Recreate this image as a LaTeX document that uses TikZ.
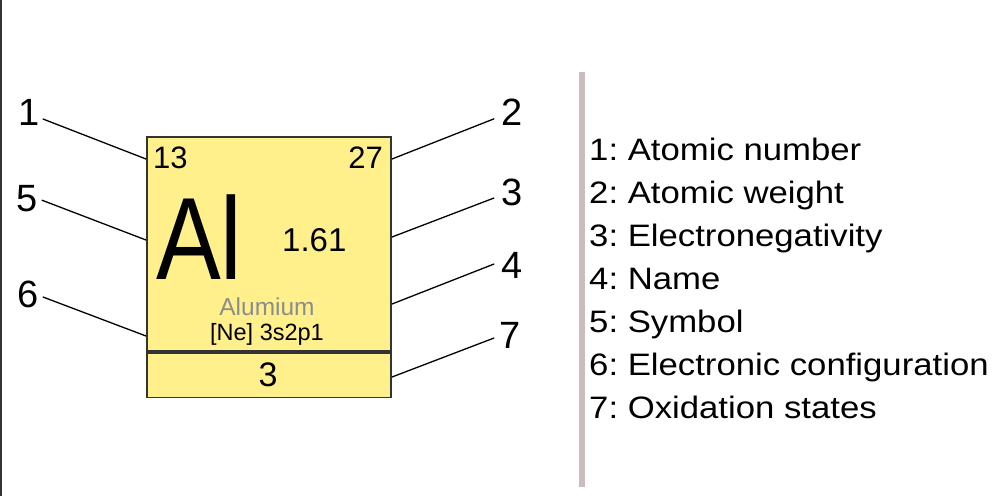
\documentclass[tikz,border=0pt]{standalone}
\usepackage{fontspec}
\setmainfont{Liberation Sans}
\usetikzlibrary{positioning}
\frenchspacing

\definecolor{cellyellow}{RGB}{255,240,140}
\definecolor{edgegray}{RGB}{51,51,51}
\definecolor{bargray}{RGB}{201,189,189}
\definecolor{namegray}{RGB}{140,140,140}

\begin{document}
\begin{tikzpicture}[x=1pt, y=-1pt,
    cell/.style={draw=edgegray, line width=1.5pt, fill=cellyellow, inner sep=0pt, minimum width=244pt},
    num/.style={anchor=base, inner sep=0pt, font=\fontsize{38}{40}\selectfont},
    txt/.style={inner sep=0pt, font=\fontsize{#1}{#1}\selectfont},
    lead/.style={line width=1.3pt},
    entry/.style={anchor=base west, inner sep=0pt, font=\fontsize{31}{36}\selectfont}]

    \useasboundingbox (0,0) rectangle (1000,496);

    % frame line on the left
    \draw[edgegray, line width=2pt] (1,0) -- (1,496);

    % element cell
    \node[cell, minimum height=214pt] (upper) at (269,244) {};
    \node[cell, minimum height=45pt, below=0pt of upper] (lower) {};
    \draw[edgegray, line width=4pt] (upper.south west) -- (upper.south east);

    \node[txt=31, anchor=base west] (anum) at (153,168) {13};
    \node[txt=31, anchor=base east] (aweight) at (383,168) {27};
    \node[txt=117, anchor=base west] (symbol) at (156,279) {\scalebox{0.83}[1]{Al}};
    \node[txt=33, anchor=base west] (eneg) at (282,251) {1.61};
    \node[txt=24.5, anchor=base, text=namegray] (name) at (267,315) {Alumium};
    \node[txt=23.5, anchor=base] (config) at (267,340) {[Ne] 3s2p1};
    \node[txt=34, anchor=base] (oxid) at (268,386) {3};

    % numbers and leader lines
    \node[num] (l1) at (29,125) {1};
    \node[num] (l5) at (27,211) {5};
    \node[num] (l6) at (28,307) {6};
    \node[num] (l2) at (512,125) {2};
    \node[num] (l3) at (512,205) {3};
    \node[num] (l4) at (512,278) {4};
    \node[num] (l7) at (510,348) {7};

    \coordinate (p1) at (146,159);
    \coordinate (p5) at (146,240);
    \coordinate (p6) at (146,336);
    \coordinate (p2) at (392,159);
    \coordinate (p3) at (392,237);
    \coordinate (p4) at (392,304);
    \coordinate (p7) at (392,377);

    \draw[lead] ([shift={(3pt,-7pt)}]l1.east) -- (p1);
    \draw[lead] ([shift={(4pt,-2pt)}]l5.east) -- (p5);
    \draw[lead] ([shift={(4pt,-3pt)}]l6.east) -- (p6);
    \draw[lead] ([shift={(-7pt,-7pt)}]l2.west) -- (p2);
    \draw[lead] ([shift={(-7pt,-6pt)}]l3.west) -- (p3);
    \draw[lead] ([shift={(-7pt,1pt)}]l4.west) -- (p4);
    \draw[lead] ([shift={(-5pt,-3pt)}]l7.west) -- (p7);

    % legend
    \draw[bargray, line width=6pt] (582,72) -- (582,487);
    \foreach \t [count=\i] in {Atomic number, Atomic weight, Electronegativity,
        Name, Symbol, Electronic configuration, Oxidation states}
        \node[entry] (key\i) at (589,117+43*\i) {\scalebox{1.12}[1]{\i: \t}};
\end{tikzpicture}
\end{document}
